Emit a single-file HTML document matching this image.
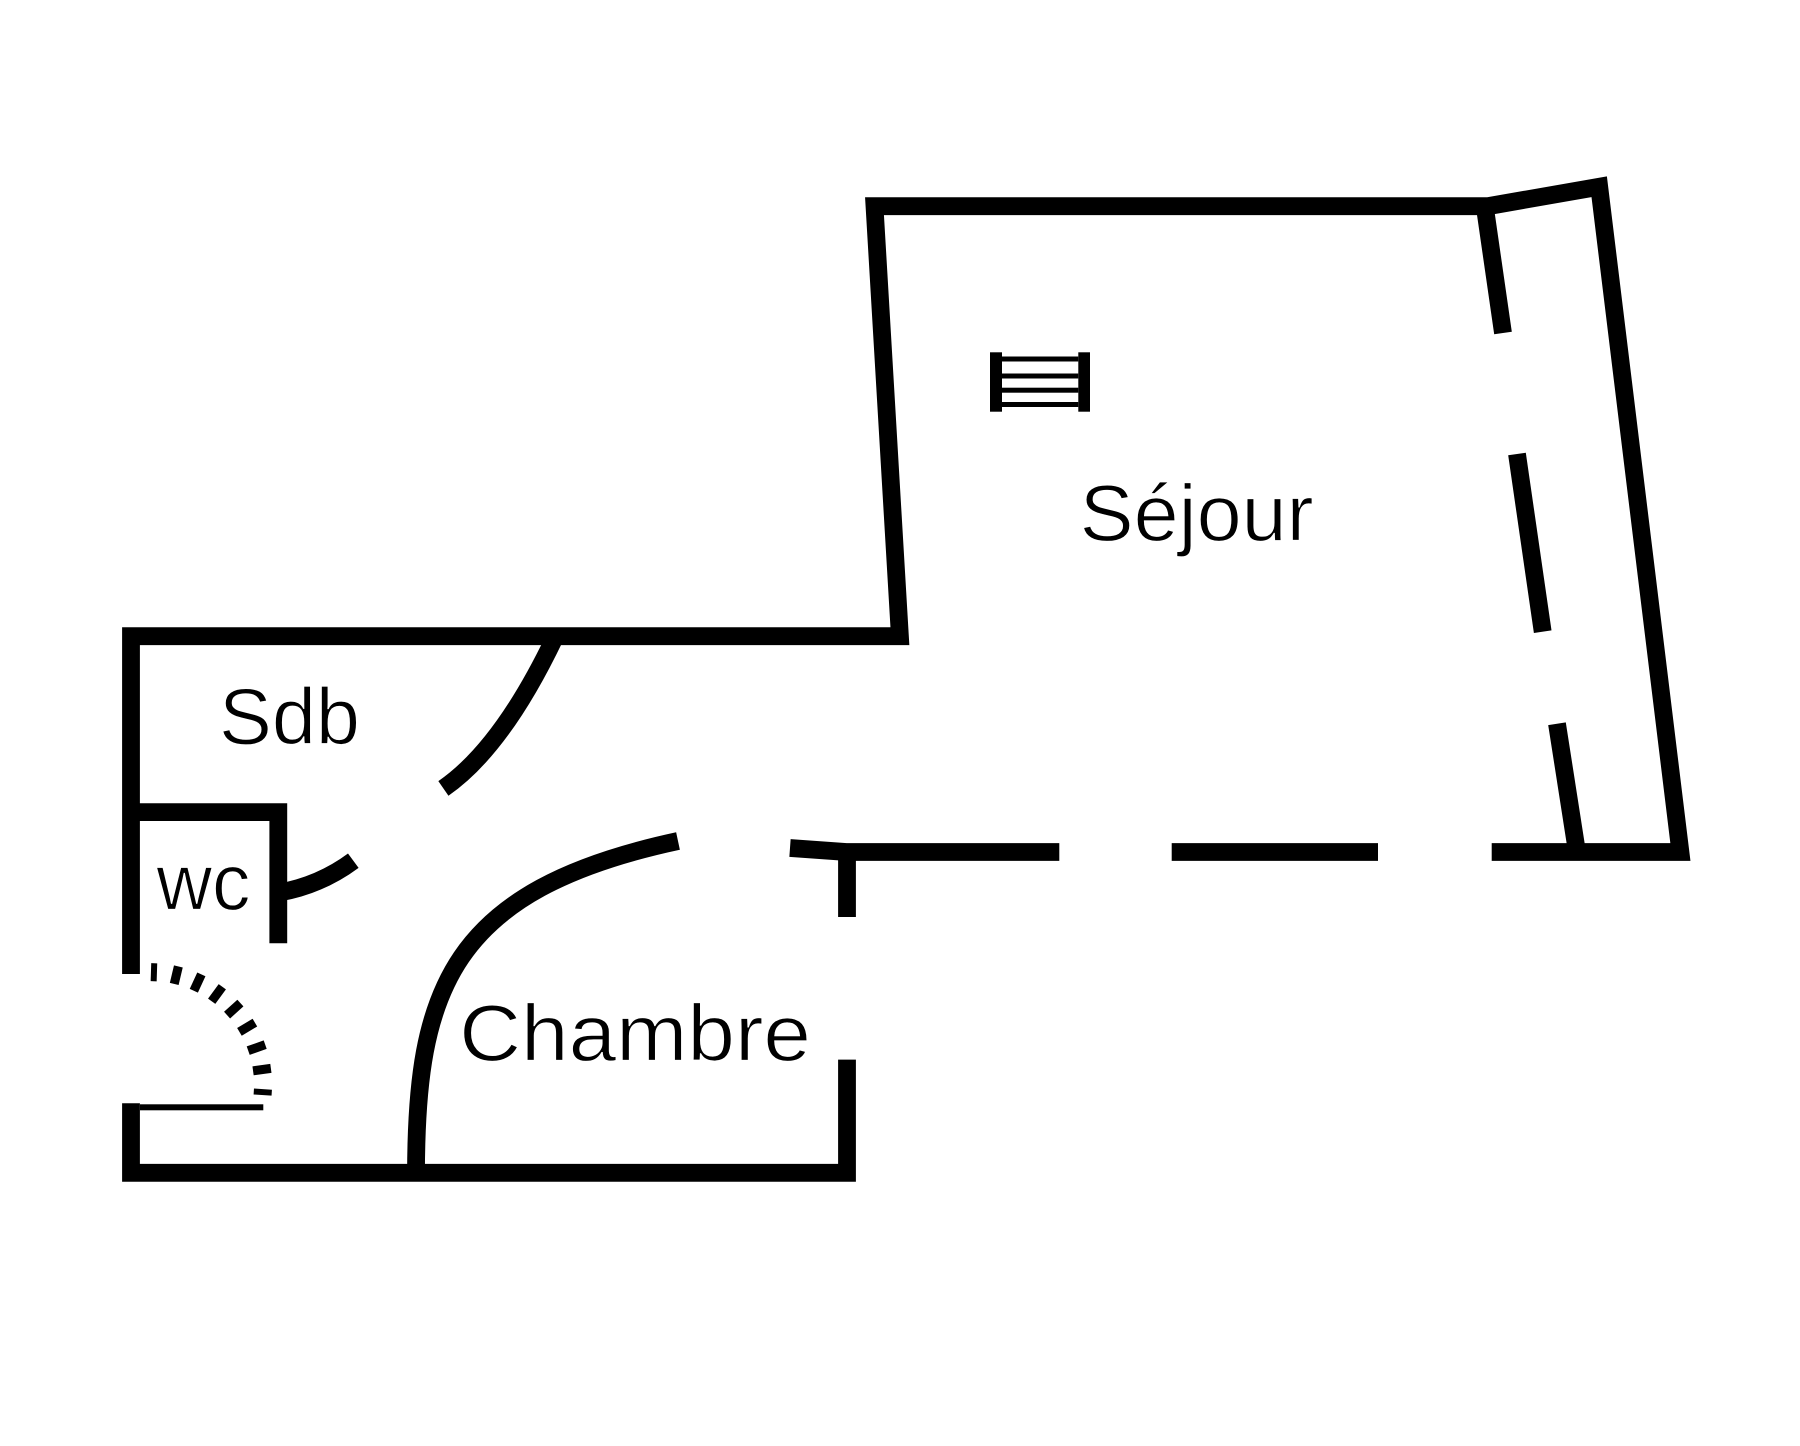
<!DOCTYPE html>
<html>
<head>
<meta charset="utf-8">
<style>
  html, body { margin: 0; padding: 0; background: #ffffff; }
  body { width: 1800px; height: 1446px; overflow: hidden; }
  svg { display: block; }
  text { font-family: "Liberation Sans", "DejaVu Sans", sans-serif; font-size: 80px; fill: #000; stroke: #fff; stroke-width: 1.2px; }
</style>
</head>
<body>
<svg width="1800" height="1446" viewBox="0 0 1800 1446" xmlns="http://www.w3.org/2000/svg">
  <rect x="0" y="0" width="1800" height="1446" fill="#ffffff"/>
  <g fill="none" stroke="#000" stroke-width="17.8" stroke-linejoin="miter" stroke-miterlimit="10" stroke-linecap="butt">
    <!-- main outline: left wall, Sdb top, Sejour left, top, right -->
    <polyline points="131,974 131,636.2 899.9,636.2 874.5,206.2 1488,206.2 1599.2,186.7 1680.4,852 1491.7,852"/>
    <!-- Sejour bottom wall pieces -->
    <polyline points="790,848 846,852 1059.3,852"/>
    <line x1="847" y1="852" x2="847" y2="917"/>
    <line x1="1171.7" y1="852" x2="1378" y2="852"/>
    <!-- lower left: left wall piece, bottom wall, chambre right wall -->
    <polyline points="131,1103.3 131,1172.8 847,1172.8 847,1059.6"/>
    <!-- WC walls -->
    <polyline points="131,812.1 278.3,812.1 278.3,943.3"/>
    <!-- dashed inner slanted wall -->
    <line x1="1484.7" y1="206" x2="1503" y2="333"/>
    <line x1="1517" y1="454" x2="1542.7" y2="631.7"/>
    <line x1="1557" y1="723.7" x2="1577" y2="852"/>
    <!-- door arcs -->
    <path d="M 555,637 Q 502,748 443.4,788.4"/>
    <path d="M 279,892.6 Q 320,885.4 353.3,860.7"/>
    <path d="M 416,1175 C 416,990 450,890 678,841"/>
  </g>
  <!-- thin line near entrance -->
  <rect x="140" y="1104.3" width="123.3" height="6" fill="#000"/>
  <!-- dotted arc -->
  <g stroke="#000" stroke-linecap="butt">
    <line stroke-width="6" x1="153.65" y1="981.25" x2="154.22" y2="963.26"/>
    <line stroke-width="9" x1="174.22" y1="983.97" x2="178.36" y2="966.46"/>
    <line stroke-width="9" x1="193.82" y1="990.73" x2="201.36" y2="974.39"/>
    <line stroke-width="9" x1="211.67" y1="1001.26" x2="222.31" y2="986.74"/>
    <line stroke-width="9" x1="227.07" y1="1015.13" x2="240.40" y2="1003.02"/>
    <line stroke-width="9" x1="239.43" y1="1031.83" x2="254.90" y2="1022.63"/>
    <line stroke-width="9" x1="248.20" y1="1050.62" x2="265.19" y2="1044.68"/>
    <line stroke-width="9" x1="253.05" y1="1070.79" x2="270.88" y2="1068.36"/>
    <line stroke-width="6" x1="253.78" y1="1091.52" x2="271.74" y2="1092.69"/>
  </g>
  <!-- radiator -->
  <g fill="#000">
    <rect x="990" y="352.3" width="12" height="59.4"/>
    <rect x="1078.3" y="352.3" width="11.7" height="59.4"/>
    <rect x="1002" y="356.5" width="76.3" height="5"/>
    <rect x="1002" y="373.5" width="76.3" height="5"/>
    <rect x="1002" y="387.7" width="76.3" height="5"/>
    <rect x="1002" y="402" width="76.3" height="5"/>
  </g>
  <!-- labels -->
  <text x="1079.6" y="540.7" textLength="234" lengthAdjust="spacingAndGlyphs">Séjour</text>
  <text x="219" y="744" textLength="141" lengthAdjust="spacingAndGlyphs">Sdb</text>
  <text x="156.5" y="909.5" textLength="94" lengthAdjust="spacingAndGlyphs">wc</text>
  <text x="459.3" y="1060.3" textLength="351.7" lengthAdjust="spacingAndGlyphs">Chambre</text>
</svg>
</body>
</html>
